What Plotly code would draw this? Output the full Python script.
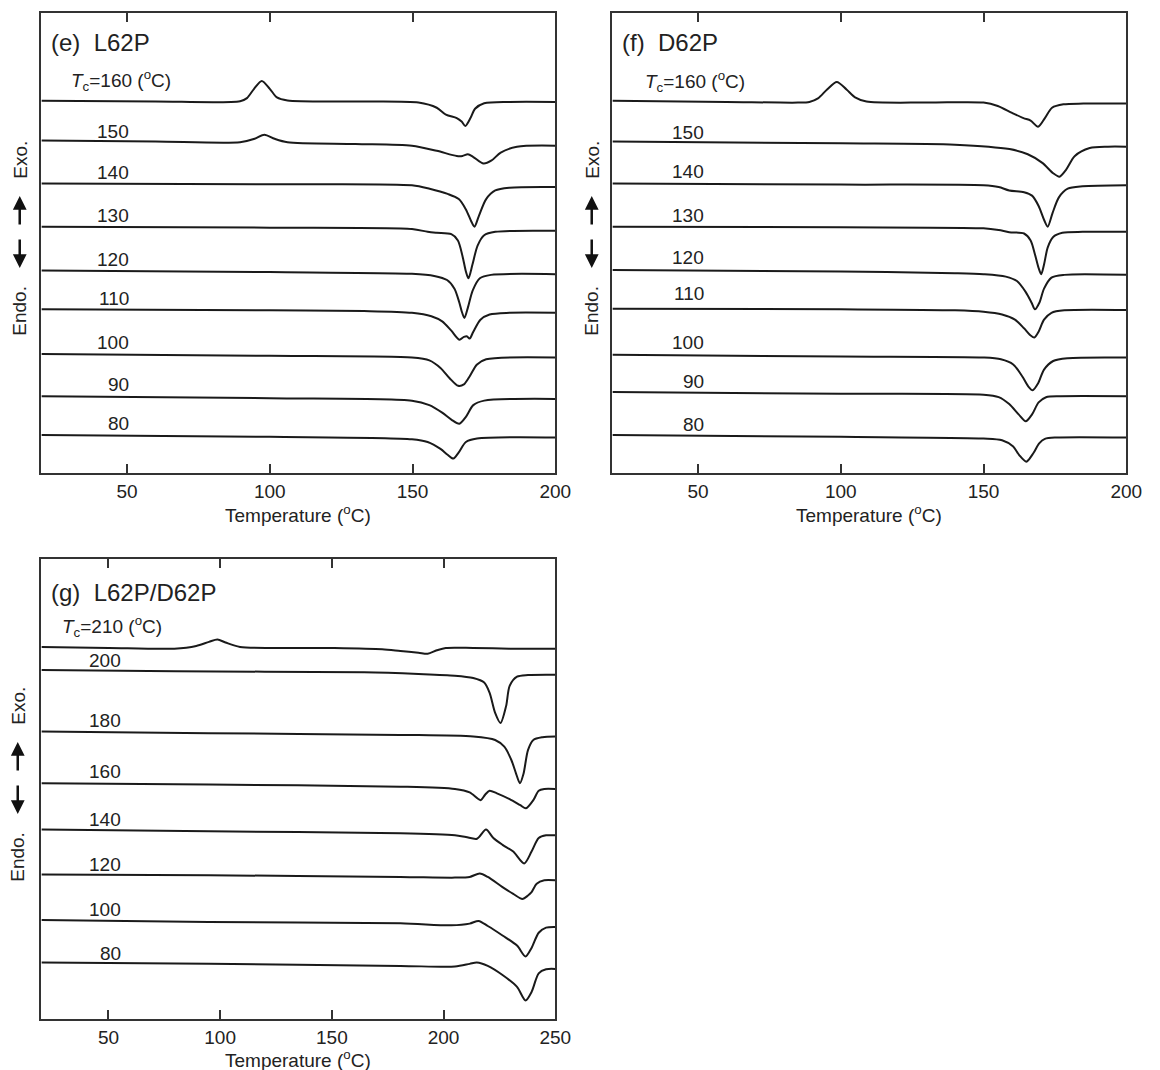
import plotly.graph_objects as go

W, H = 1160, 1070

# ---------------- Panel (e) L62P : Tc curves (temperature in degC, signal in a.u.) ----------------
E_TC = [160, 150, 140, 130, 120, 110, 100, 90, 80]
E_OFFSET = [1080, 965, 840, 715, 588, 475, 345, 223, 110]

E160_T = [20, 60, 89.6, 92, 94.5, 97.2, 100, 102.5, 106.2, 130, 152.1, 158.5, 161.7, 165.5, 167.2, 168.5, 170.3, 171.9, 175.1, 184, 200]
E160_S = [0, -2, -1, 8, 35, 58, 35, 10, 1, -2, -5, -20, -40, -50, -60, -73, -50, -23, -7, -3, -3]
E150_T = [20, 60, 89.6, 94.7, 98.1, 101.7, 106.2, 130, 149.8, 158.5, 165.5, 167.5, 169.4, 171.3, 174.9, 177.7, 180.9, 186.6, 200]
E150_S = [0, -3, -5, 5, 17, 5, -5, -10, -15, -30, -45, -45, -40, -48, -67, -58, -35, -18, -15]
E140_T = [20, 100, 149.8, 156, 162.3, 166.2, 168.7, 170.6, 171.7, 173.2, 175.8, 179, 184, 200]
E140_S = [0, -2, -5, -15, -30, -45, -75, -110, -125, -95, -45, -20, -12, -10]
E130_T = [20, 100, 149.8, 155.3, 158.5, 163.6, 165.9, 167.5, 168.7, 169.6, 171, 172.8, 175.1, 179, 200]
E130_S = [0, -3, -7, -15, -18, -22, -40, -85, -130, -150, -110, -55, -25, -15, -12]
E120_T = [20, 100, 149.8, 157.6, 162.1, 164.7, 166.4, 167.4, 168.2, 169.4, 171.1, 173.6, 177.5, 200]
E120_S = [0, -5, -10, -16, -28, -53, -93, -123, -138, -108, -58, -23, -13, -11]
E110_T = [20, 100, 133, 149.8, 156.6, 160.4, 163.6, 166.4, 168, 169, 170, 171.3, 173.8, 177, 184, 200]
E110_S = [0, -3, -5, -10, -20, -35, -62, -88, -80, -78, -85, -65, -30, -15, -10, -10]
E100_T = [20, 100, 149.8, 155.9, 159.8, 163, 166, 168, 170, 172.6, 175.8, 200]
E100_S = [0, -5, -10, -18, -40, -70, -92, -88, -65, -30, -15, -10]
E90_T = [20, 100, 149.8, 155.9, 160.4, 163.6, 166.4, 168.7, 171.3, 175.1, 200]
E90_S = [0, -6, -13, -26, -48, -68, -80, -60, -26, -13, -8]
E80_T = [20, 100, 149.8, 155.3, 159.8, 162.3, 164.3, 166.2, 168.7, 172.6, 200]
E80_S = [0, -5, -12, -20, -40, -57, -68, -50, -20, -10, -7]

E_LABEL_Y = [1140, 990, 873, 747, 620, 507, 380, 257, 145]

# ---------------- Panel (f) D62P ----------------
F_TC = [160, 150, 140, 130, 120, 110, 100, 90, 80]
F_OFFSET = [1080, 962, 840, 715, 589, 477, 343, 235, 110]

F160_T = [20, 60, 85, 89, 92, 95.2, 98.6, 102, 105, 109, 130, 150, 155, 160, 164, 166.5, 169.1, 171.5, 174, 178, 185, 200]
F160_S = [0, -3, -5, -3, 7, 33, 55, 33, 10, -2, -5, -5, -15, -35, -50, -57, -75, -50, -20, -10, -8, -8]
F150_T = [20, 100, 140, 159.1, 165.5, 170.6, 174.4, 176.6, 178.9, 182, 187.2, 193.6, 200]
F150_S = [0, -5, -9, -22, -37, -62, -92, -102, -82, -42, -19, -15, -15]
F140_T = [20, 100, 150, 155.3, 159, 164.2, 167, 169.3, 171.2, 172.5, 174.2, 176.4, 179.5, 184.7, 200]
F140_S = [0, -3, -5, -10, -20, -25, -35, -65, -105, -125, -85, -40, -15, -8, -5]
F130_T = [20, 100, 150, 155.3, 159, 164.2, 166.5, 168, 169.3, 170.2, 171.2, 172.5, 174.4, 177.6, 184.7, 200]
F130_S = [0, -2, -5, -10, -16, -20, -40, -80, -120, -138, -110, -60, -30, -18, -15, -15]
F120_T = [20, 100, 140, 150, 157.8, 161.7, 164.8, 166.8, 168, 169.6, 171.2, 173.8, 178.3, 200]
F120_S = [0, -4, -9, -12, -19, -32, -64, -94, -114, -94, -54, -22, -14, -14]
F110_T = [20, 100, 140, 150, 156.5, 161, 164.2, 166.4, 167.8, 169.3, 171.2, 173.8, 178.3, 200]
F110_S = [0, -2, -5, -9, -17, -32, -57, -77, -84, -67, -32, -12, -5, -4]
F100_T = [20, 100, 150, 156.1, 160.4, 163.6, 165.8, 167.2, 169.1, 171.2, 174.4, 179.5, 200]
F100_S = [0, -5, -8, -13, -28, -63, -93, -103, -83, -43, -18, -10, -8]
F90_T = [20, 100, 150, 155.3, 159, 162.3, 164.8, 167, 169.3, 171.9, 177, 200]
F90_S = [0, -5, -8, -15, -35, -65, -85, -65, -30, -15, -12, -12]
F80_T = [20, 100, 150, 156.5, 160.4, 162.5, 165, 167.5, 169.5, 171.5, 175.6, 200]
F80_S = [0, -5, -10, -15, -33, -58, -77, -52, -24, -11, -7, -7]

F_LABEL_Y = [1135, 987, 875, 747, 625, 520, 378, 265, 140]

# ---------------- Panel (g) L62P/D62P ----------------
G_TC = [210, 200, 180, 160, 140, 120, 100, 80]
G_OFFSET = [1100, 1032, 850, 697, 560, 427, 293, 167]

G210_T = [20, 50.2, 79.5, 89.3, 95, 98.8, 102.4, 108.9, 148, 172.5, 180.7, 188.8, 192.9, 197, 201, 213.3, 229.6, 250]
G210_S = [0, -3, -5, 3, 15, 22, 13, 0, -3, -7, -12, -17, -20, -10, -3, -3, -5, -5]
G200_T = [20, 80, 164.4, 188.8, 205, 213.3, 218.2, 220.6, 223.1, 225.5, 228, 229.6, 232.9, 237.8, 250]
G200_S = [0, -4, -7, -12, -17, -24, -37, -67, -127, -157, -107, -47, -20, -15, -14]
G180_T = [20, 95, 180.7, 213.3, 223.1, 227.2, 230.4, 232.5, 234.2, 235.8, 237.8, 240.2, 244.3, 250]
G180_S = [0, -5, -10, -15, -25, -45, -85, -125, -153, -125, -55, -25, -17, -15]
G160_T = [20, 95, 180.7, 205.1, 211.7, 216.6, 218.6, 220.6, 223.9, 229.6, 234.4, 236.9, 240.2, 242.6, 245.1, 250]
G160_S = [0, -4, -10, -17, -27, -50, -34, -22, -30, -47, -65, -74, -50, -22, -17, -17]
G140_T = [20, 95, 180.7, 205.1, 210, 215, 219, 222.3, 226.4, 231.2, 236.1, 239.4, 242.6, 245.9, 250]
G140_S = [0, -5, -11, -17, -22, -27, 0, -25, -45, -65, -100, -65, -25, -17, -17]
G120_T = [20, 95, 180.7, 205.1, 211.7, 216.2, 219.8, 226.4, 231.2, 235.3, 237.8, 239.4, 241.7, 245.1, 250]
G120_S = [0, -2, -7, -9, -7, 3, -7, -37, -57, -72, -62, -52, -27, -17, -17]
G100_T = [20, 95, 180.7, 203.5, 211.7, 215.7, 219.8, 226.4, 232.9, 236.7, 239.4, 242.6, 245.9, 250]
G100_S = [0, -6, -10, -16, -11, -3, -18, -46, -76, -108, -83, -38, -23, -21]
G80_T = [20, 95, 180.7, 205.1, 211.7, 214.9, 219.8, 226.4, 232.9, 236.7, 239.4, 242.6, 245.9, 250]
G80_S = [0, -4, -10, -12, -4, 0, -10, -37, -72, -112, -87, -32, -20, -19]

G_LABEL_Y = [1160, 1060, 882, 732, 590, 458, 323, 195]

E_T = [E160_T, E150_T, E140_T, E130_T, E120_T, E110_T, E100_T, E90_T, E80_T]
E_S = [E160_S, E150_S, E140_S, E130_S, E120_S, E110_S, E100_S, E90_S, E80_S]
F_T = [F160_T, F150_T, F140_T, F130_T, F120_T, F110_T, F100_T, F90_T, F80_T]
F_S = [F160_S, F150_S, F140_S, F130_S, F120_S, F110_S, F100_S, F90_S, F80_S]
G_T = [G210_T, G200_T, G180_T, G160_T, G140_T, G120_T, G100_T, G80_T]
G_S = [G210_S, G200_S, G180_S, G160_S, G140_S, G120_S, G100_S, G80_S]

# ---------------- layout helpers ----------------
FONT = "Liberation Sans, Arial, sans-serif"
INK = "#1a1a1a"
TXT = "#222"
FS = 19


def px_x(p):
    return p / W


def px_y(p):
    return 1 - p / H


panels = [
    dict(name="(e)\u00a0\u00a0L62P", T=E_T, S=E_S, off=E_OFFSET, tc=E_TC, ly=E_LABEL_Y,
         xr=[20, 200], yr=[0, 1335], box=(42, 563, 13, 473), tcx=29.6, numx=51.3, side=20, tt=41),
    dict(name="(f)\u00a0\u00a0D62P", T=F_T, S=F_S, off=F_OFFSET, tc=F_TC, ly=F_LABEL_Y,
         xr=[20, 200], yr=[0, 1335], box=(621, 1142, 13, 473), tcx=30.6, numx=52.7, side=600, tt=41),
    dict(name="(g)\u00a0\u00a0L62P/D62P", T=G_T, S=G_S, off=G_OFFSET, tc=G_TC, ly=G_LABEL_Y,
         xr=[20, 250], yr=[0, 1360], box=(42, 563, 559, 1019), tcx=28.2, numx=56.5, side=18, tt=39.5),
]

fig = go.Figure()
annotations = []

for i, p in enumerate(panels):
    k = "" if i == 0 else str(i + 1)
    xa, ya = "x" + k, "y" + k
    for T, S, o in zip(p["T"], p["S"], p["off"]):
        fig.add_trace(go.Scatter(
            x=T, y=[o + s for s in S], mode="lines", xaxis=xa, yaxis=ya,
            line=dict(color=INK, width=2, shape="spline", smoothing=0.8),
            showlegend=False, hoverinfo="skip"))
    L, R, Tp, B = p["box"]
    fig.layout["xaxis" + k] = dict(
        domain=[px_x(L), px_x(R)], range=p["xr"], anchor=ya,
        showline=True, linecolor="#333", linewidth=1.6, mirror="ticks",
        ticks="inside", ticklen=9, tickwidth=1.5, tickcolor="#333",
        tick0=0, dtick=50, showgrid=False, zeroline=False,
        tickfont=dict(family=FONT, size=FS, color=TXT))
    fig.layout["yaxis" + k] = dict(
        domain=[px_y(B), px_y(Tp)], range=p["yr"], anchor=xa,
        showline=True, linecolor="#333", linewidth=1.6, mirror=True,
        ticks="", showticklabels=False, showgrid=False, zeroline=False)

    # panel title
    annotations.append(dict(
        text=p["name"], xref="paper", yref="paper",
        x=px_x(L + 8), y=px_y(Tp + (29 if i < 2 else 33)), xanchor="left", yanchor="middle",
        showarrow=False, font=dict(family=FONT, size=24, color=TXT)))
    # curve labels
    for j, (tc, yl) in enumerate(zip(p["tc"], p["ly"])):
        if j == 0:
            annotations.append(dict(
                text="<i>T</i><sub>c</sub>=%d (<sup>o</sup>C)" % tc, xref=xa, yref=ya,
                x=p["tcx"], y=yl, xanchor="left", yanchor="middle", showarrow=False,
                font=dict(family=FONT, size=FS, color=TXT)))
        else:
            annotations.append(dict(
                text=str(tc), xref=xa, yref=ya, x=p["numx"], y=yl,
                xanchor="right", yanchor="middle", showarrow=False,
                font=dict(family=FONT, size=FS, color=TXT)))
    # axis title
    annotations.append(dict(
        text="Temperature (<sup>o</sup>C)", xref="paper", yref="paper",
        x=px_x((L + R) / 2), y=px_y(B + p["tt"]), xanchor="center", yanchor="middle",
        showarrow=False, font=dict(family=FONT, size=FS, color=TXT)))
    # Exo / Endo side markers
    sx = p["side"]
    annotations.append(dict(text="Exo.", xref="paper", yref="paper", x=px_x(sx), y=px_y(Tp + 147),
                            textangle=-90, showarrow=False, xanchor="center", yanchor="middle",
                            font=dict(family=FONT, size=FS, color=TXT)))
    annotations.append(dict(text="Endo.", xref="paper", yref="paper", x=px_x(sx), y=px_y(Tp + 298),
                            textangle=-90, showarrow=False, xanchor="center", yanchor="middle",
                            font=dict(family=FONT, size=FS, color=TXT)))
    annotations.append(dict(text="", xref="paper", yref="paper", x=px_x(sx), y=px_y(Tp + 183),
                            ax=0, ay=30, showarrow=True, arrowhead=2, arrowsize=1.1,
                            arrowwidth=2.5, arrowcolor="#111"))
    annotations.append(dict(text="", xref="paper", yref="paper", x=px_x(sx), y=px_y(Tp + 255),
                            ax=0, ay=-30, showarrow=True, arrowhead=2, arrowsize=1.1,
                            arrowwidth=2.5, arrowcolor="#111"))

fig.update_layout(
    width=W, height=H, margin=dict(l=0, r=0, t=0, b=0),
    paper_bgcolor="white", plot_bgcolor="white",
    annotations=annotations, showlegend=False)

fig.write_html("out.html")
